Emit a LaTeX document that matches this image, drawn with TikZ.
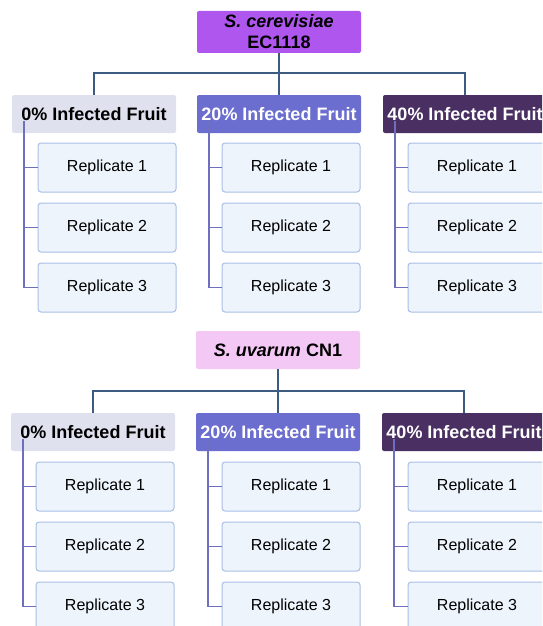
\documentclass[tikz,border=0pt]{standalone}
\usepackage{fontspec}
\setmainfont{Liberation Sans}
\definecolor{cerevisiae}{HTML}{AE56EE}
\definecolor{uvarum}{HTML}{F4C8F4}
\definecolor{zerofill}{HTML}{DFE1EF}
\definecolor{twentyfill}{HTML}{6B6DCF}
\definecolor{fortyfill}{HTML}{4A3062}
\definecolor{repfill}{HTML}{EEF4FC}
\definecolor{repline}{HTML}{A9BEE6}
\definecolor{linkblue}{HTML}{3D5A80}
\definecolor{branchblue}{HTML}{6E6FBF}

\begin{document}
\begin{tikzpicture}[x=1pt, y=-1pt,
  title/.style={rectangle, rounded corners=2pt, minimum width=164pt, inner sep=0pt,
                align=center, font=\bfseries\fontsize{18}{21}\selectfont},
  group/.style={rectangle, rounded corners=2pt, minimum width=164pt, minimum height=38pt,
                inner sep=0pt, font=\bfseries\fontsize{18}{21}\selectfont},
  rep/.style={rectangle, draw=repline, fill=repfill, line width=1pt, rounded corners=3pt,
              minimum width=138pt, minimum height=49pt, font=\fontsize{16}{19}\selectfont},
  link/.style={draw=linkblue, line width=1.6pt},
  branch/.style={draw=branchblue, line width=1.6pt}
]
  \useasboundingbox (0,0) rectangle (542,626);
  \clip (0,0) rectangle (542,626);

  % S. cerevisiae EC1118
  \node[title, fill=cerevisiae, minimum height=42pt] (tc) at (279,32) {\textit{S. cerevisiae}\\EC1118};
  \node[group, fill=zerofill] (gc0) at (94,114) {0\% Infected Fruit};
  \node[group, fill=twentyfill, text=white] (gc20) at (279,114) {20\% Infected Fruit};
  \node[group, fill=fortyfill, text=white] (gc40) at (465,114) {40\% Infected Fruit};
  \foreach \g/\x in {0/107, 20/291, 40/477}
    \foreach \r/\y in {1/167.5, 2/227.5, 3/287.5}
      \node[rep] (rc\g-\r) at (\x,\y) {Replicate \r};

  \coordinate (jc) at (279,73);
  \draw[link] (tc) -- (jc);
  \draw[link] (gc0.north) |- (jc) -| (gc40.north);
  \draw[link] (jc) -- (gc20.north);
  \foreach \g in {0,20,40} {
    \coordinate (sc\g) at ([xshift=12pt,yshift=-7pt]gc\g.west);
    \draw[branch] (sc\g) |- (rc\g-3.west);
    \foreach \r in {1,2}
      \draw[branch] (sc\g |- rc\g-\r.west) -- (rc\g-\r.west);
  }

  % S. uvarum CN1
  \node[title, fill=uvarum, minimum height=38pt] (tu) at (278,350) {\textit{S. uvarum} CN1};
  \node[group, fill=zerofill] (gu0) at (93,432) {0\% Infected Fruit};
  \node[group, fill=twentyfill, text=white] (gu20) at (278,432) {20\% Infected Fruit};
  \node[group, fill=fortyfill, text=white] (gu40) at (464,432) {40\% Infected Fruit};
  \foreach \g/\x in {0/105, 20/291, 40/477}
    \foreach \r/\y in {1/486.5, 2/546.5, 3/606.5}
      \node[rep] (ru\g-\r) at (\x,\y) {Replicate \r};

  \coordinate (ju) at (278,391);
  \draw[link] (tu) -- (ju);
  \draw[link] (gu0.north) |- (ju) -| (gu40.north);
  \draw[link] (ju) -- (gu20.north);
  \foreach \g in {0,20,40} {
    \coordinate (su\g) at ([xshift=12pt,yshift=-7pt]gu\g.west);
    \draw[branch] (su\g) |- (ru\g-3.west);
    \foreach \r in {1,2}
      \draw[branch] (su\g |- ru\g-\r.west) -- (ru\g-\r.west);
  }
\end{tikzpicture}
\end{document}
